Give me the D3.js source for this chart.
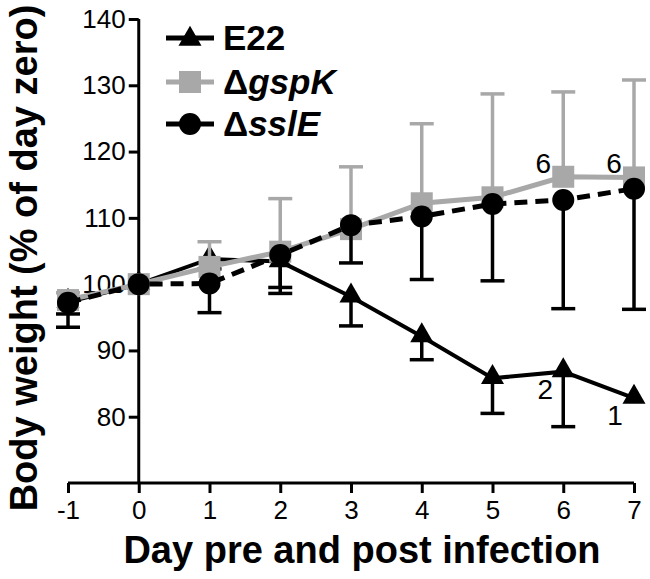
<!DOCTYPE html>
<html><head><meta charset="utf-8">
<script src="https://cdn.jsdelivr.net/npm/d3@7"></script>
<style>body{margin:0;background:#fff}svg{display:block}text{font-family:"Liberation Sans",Arial,Helvetica,sans-serif}</style>
</head><body><svg id="c" width="650" height="579"></svg>
<script>
const days = [-1, 0, 1, 2, 3, 4, 5, 6, 7];
const yTicks = [80, 90, 100, 110, 120, 130, 140];
const e22 = [97.3, 100, 103.8, 103.4, 98.1, 92.1, 85.8, 86.8, 82.8];
const e22Lower = [93.5, null, 102.3, 98.6, 93.7, 88.6, 80.5, 78.5, null];
const gspK = [97.6, 100, 102.6, 104.9, 108.3, 112.2, 113.1, 116.2, 116.1];
const gspKUpper = [98.7, null, 106.4, 112.9, 117.7, 124.2, 128.7, 129.0, 130.8];
const sslE = [97.2, 100, 100.1, 104.4, 108.9, 110.2, 112.1, 112.7, 114.4];
const sslELower = [95.5, null, 95.7, 99.5, 103.2, 100.7, 100.5, 96.3, 96.2];
const nLabels = [{day: 6, v: 116.2, t: "6"}, {day: 7, v: 116.1, t: "6"}, {day: 6, v: 86.8, t: "2"}, {day: 7, v: 82.8, t: "1"}];
const GRAY = "#a8a8a8";

const svg = d3.select("#c");
const x = d3.scaleLinear().domain([-1, 7]).range([68, 634]);
const y = d3.scaleLinear().domain([70, 140]).range([483, 19]);
const fmt = d => String(d);

// axes
const yAxis = svg.append("g").attr("transform", `translate(${x(0)},0)`)
  .call(d3.axisLeft(y).tickValues(yTicks).tickSize(10).tickPadding(3).tickFormat(fmt));
yAxis.select(".domain").attr("d", `M0,${y(140)}V${y(70)}`);
const xAxis = svg.append("g").attr("transform", `translate(0,${y(70)})`)
  .call(d3.axisBottom(x).tickValues(days).tickSize(10).tickPadding(8).tickFormat(fmt));
xAxis.select(".domain").attr("d", `M${x(-1)},0H${x(7)}`);
svg.selectAll(".domain, .tick line").attr("stroke", "#000").attr("stroke-width", 3);
svg.selectAll(".tick text").attr("font-size", 26).attr("fill", "#000").style("font-family", '"Liberation Sans",Arial,sans-serif');

svg.append("text").attr("x", 362).attr("y", 563).attr("text-anchor", "middle")
  .attr("font-size", 38).attr("font-weight", "bold").text("Day pre and post infection");
svg.append("text").attr("transform", `translate(37,258) rotate(-90)`).attr("text-anchor", "middle")
  .attr("font-size", 38).attr("font-weight", "bold").text("Body weight (% of day zero)");

const line = d3.line().x((d, i) => x(days[i])).y(d => y(d));
const cap = 12;

function errBars(vals, ends, color, w) {
  const g = svg.append("g").attr("stroke", color).attr("stroke-width", w);
  days.forEach((d, i) => {
    if (ends[i] == null) return;
    g.append("line").attr("x1", x(d)).attr("x2", x(d)).attr("y1", y(vals[i])).attr("y2", y(ends[i]));
    g.append("line").attr("x1", x(d) - cap).attr("x2", x(d) + cap).attr("y1", y(ends[i])).attr("y2", y(ends[i]));
  });
}
const tri = d3.symbol().type(d3.symbolTriangle).size(230);

// E22
errBars(e22, e22Lower, "#000", 3.5);
svg.append("path").datum(e22).attr("d", line).attr("fill", "none").attr("stroke", "#000").attr("stroke-width", 4);
svg.append("g").selectAll("path").data(e22).join("path")
  .attr("d", tri).attr("transform", (d, i) => `translate(${x(days[i])},${y(d) - 1})`).attr("fill", "#000");

// gspK
errBars(gspK, gspKUpper, GRAY, 3.5);
svg.append("path").datum(gspK).attr("d", line).attr("fill", "none").attr("stroke", GRAY).attr("stroke-width", 5);
svg.append("g").selectAll("rect").data(gspK).join("rect")
  .attr("x", (d, i) => x(days[i]) - 11).attr("y", d => y(d) - 11).attr("width", 22).attr("height", 22).attr("fill", GRAY);

// sslE
errBars(sslE, sslELower, "#000", 3.5);
svg.append("path").datum(sslE).attr("d", line).attr("fill", "none").attr("stroke", "#000").attr("stroke-width", 5).attr("stroke-dasharray", "13,8");
svg.append("g").selectAll("circle").data(sslE).join("circle")
  .attr("cx", (d, i) => x(days[i])).attr("cy", d => y(d)).attr("r", 11).attr("fill", "#000");

// n labels
const nPos = {"6": [-20, -4], "2": [-18, 27], "1": [-19, 27]};
svg.append("g").selectAll("text").data(nLabels).join("text")
  .attr("x", d => x(d.day) + nPos[d.t][0]).attr("y", d => y(d.v) + nPos[d.t][1])
  .attr("text-anchor", "middle").attr("font-size", 28).text(d => d.t);

// legend
const legend = [
  {name: "E22", ital: null, color: "#000", sym: "tri", ly: 38},
  {name: "Δ", ital: "gspK", color: GRAY, sym: "sq", ly: 82},
  {name: "Δ", ital: "sslE", color: "#000", sym: "circ", ly: 124}
];
const lg = svg.append("g");
legend.forEach(l => {
  lg.append("line").attr("x1", 166).attr("x2", 214).attr("y1", l.ly).attr("y2", l.ly).attr("stroke", l.color).attr("stroke-width", 5);
  if (l.sym === "tri") lg.append("path").attr("d", tri).attr("transform", `translate(190,${l.ly + 1})`).attr("fill", l.color);
  if (l.sym === "sq") lg.append("rect").attr("x", 179).attr("y", l.ly - 11).attr("width", 22).attr("height", 22).attr("fill", l.color);
  if (l.sym === "circ") lg.append("circle").attr("cx", 190).attr("cy", l.ly).attr("r", 11).attr("fill", l.color);
  const t = lg.append("text").attr("x", 223).attr("y", l.ly + 12).attr("font-size", 35).attr("font-weight", "bold");
  t.append("tspan").text(l.name);
  if (l.ital) t.append("tspan").attr("font-style", "italic").text(l.ital);
});
</script></body></html>
